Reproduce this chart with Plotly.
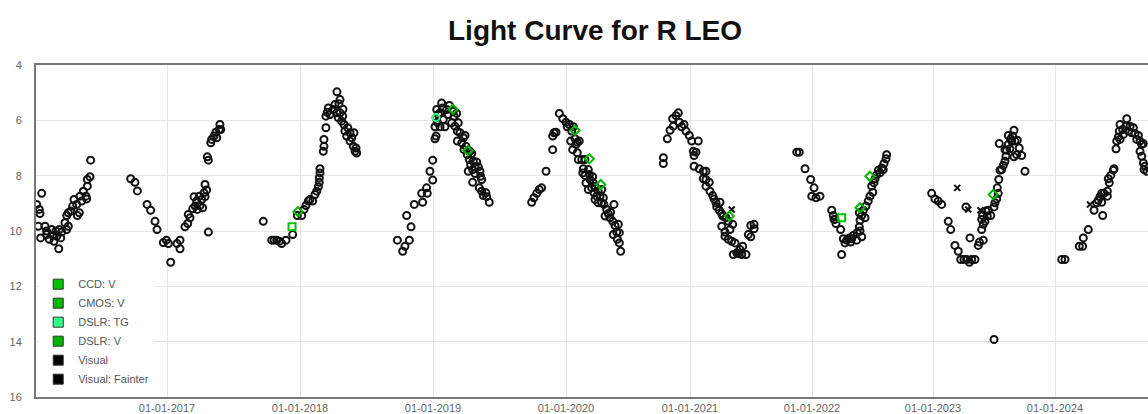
import numpy as np
import plotly.graph_objects as go

# ---------------- data (decimal year, magnitude) ----------------
vis_2016_t = [2016.020, 2016.040, 2016.045, 2016.058, 2016.032, 2016.050, 2016.083, 2016.095, 2016.095, 2016.115,
              2016.133, 2016.141, 2016.150, 2016.165, 2016.171, 2016.186, 2016.190, 2016.201, 2016.208, 2016.233,
              2016.246, 2016.258, 2016.246, 2016.258, 2016.276, 2016.291, 2016.301, 2016.321, 2016.326, 2016.341,
              2016.346, 2016.359, 2016.371, 2016.391, 2016.396, 2016.401, 2016.401, 2016.421, 2016.426]
vis_2016_m = [9.04, 9.22, 9.37, 8.64, 9.83, 10.25, 9.83, 10.00, 10.13, 10.30,
              9.95, 10.16, 10.37, 10.00, 10.19, 10.64, 9.95, 10.25, 10.04, 9.70,
              9.95, 9.83, 9.44, 9.34, 9.28, 9.10, 8.86, 9.04, 9.44, 9.34,
              8.74, 8.92, 8.56, 8.74, 8.84, 8.38, 8.14, 8.04, 7.44]

vis_2017_t = [2016.727, 2016.759, 2016.777, 2016.850, 2016.877, 2016.910, 2016.925, 2016.972, 2016.995, 2017.010,
              2017.028, 2017.075, 2017.098, 2017.098, 2017.135, 2017.156, 2017.160, 2017.173, 2017.193, 2017.203,
              2017.211, 2017.223, 2017.228, 2017.243, 2017.248, 2017.261, 2017.268, 2017.278, 2017.286, 2017.286,
              2017.298, 2017.311, 2017.303, 2017.311, 2017.329, 2017.336, 2017.353, 2017.368, 2017.374, 2017.393,
              2017.398, 2017.404]
vis_2017_m = [8.11, 8.24, 8.55, 9.04, 9.25, 9.65, 9.95, 10.42, 10.33, 10.45,
              11.13, 10.45, 10.33, 10.64, 9.85, 9.73, 9.40, 9.52, 9.20, 8.76,
              9.10, 8.92, 9.22, 8.74, 9.08, 8.86, 9.16, 8.62, 8.76, 8.32,
              8.52, 10.04, 7.32, 7.44, 6.81, 6.69, 6.57, 6.43, 6.63, 6.33,
              6.15, 6.33]

vis_2018_t = [2017.724, 2017.787, 2017.805, 2017.825, 2017.844, 2017.862, 2017.895, 2017.945, 2017.980, 2018.013,
              2018.030, 2018.045, 2018.062, 2018.075, 2018.095, 2018.113, 2018.126, 2018.138, 2018.145, 2018.145,
              2018.150, 2018.150, 2018.175, 2018.180, 2018.180, 2018.195, 2018.195, 2018.205, 2018.213, 2018.226,
              2018.250, 2018.263, 2018.276, 2018.278, 2018.288, 2018.301, 2018.301, 2018.313, 2018.321, 2018.331,
              2018.338, 2018.351, 2018.359, 2018.376, 2018.376, 2018.389, 2018.401, 2018.406, 2018.414, 2018.426,
              2018.421, 2018.293, 2018.323]
vis_2018_m = [9.65, 10.33, 10.33, 10.33, 10.37, 10.45, 10.33, 10.13, 9.44, 9.44,
              9.22, 9.08, 8.92, 8.86, 8.92, 8.68, 8.56, 8.40, 8.24, 8.08,
              7.90, 7.75, 7.12, 6.94, 6.69, 6.27, 5.85, 5.71, 5.55, 5.79,
              5.61, 5.43, 5.73, 4.97, 5.91, 5.25, 5.73, 6.03, 5.85, 6.15,
              6.39, 6.57, 6.27, 6.45, 6.75, 6.63, 6.94, 6.45, 7.12, 7.18,
              7.00, 5.40, 5.60]

vis_2019_t = [2018.732, 2018.772, 2018.789, 2018.822, 2018.802, 2018.835, 2018.859, 2018.922, 2018.915, 2018.952,
              2018.957, 2018.977, 2018.998, 2018.998, 2019.015, 2019.023, 2019.015, 2019.023, 2019.040, 2019.053,
              2019.065, 2019.073, 2019.077, 2019.090, 2019.103, 2019.115, 2019.123, 2019.141, 2019.153, 2019.158,
              2019.165, 2019.178, 2019.183, 2019.190, 2019.203, 2019.183, 2019.216, 2019.228, 2019.233, 2019.248,
              2019.241, 2019.258, 2019.278, 2019.291, 2019.273, 2019.283, 2019.303, 2019.316, 2019.329, 2019.341,
              2019.298, 2019.265, 2019.316, 2019.353, 2019.358, 2019.366, 2019.298, 2019.348, 2019.366, 2019.378,
              2019.398, 2019.404, 2019.423, 2019.053, 2019.032, 2019.028]
vis_2019_m = [10.33, 10.73, 10.55, 10.33, 9.44, 9.85, 9.04, 8.96, 8.64, 8.44,
              8.64, 7.84, 8.16, 7.44, 6.67, 6.57, 6.23, 5.91, 5.79, 6.23,
              5.37, 5.55, 5.97, 6.23, 5.61, 5.79, 5.46, 6.09, 5.67, 5.85,
              6.21, 5.75, 6.39, 6.09, 6.45, 6.75, 6.81, 6.63, 7.06, 6.94,
              6.55, 7.24, 7.12, 7.20, 7.42, 7.60, 7.48, 7.68, 7.51, 7.68,
              7.78, 7.84, 7.92, 7.84, 8.02, 8.14, 8.24, 8.44, 8.56, 8.72,
              8.62, 8.76, 8.96, 5.73, 6.07, 5.61]

vis_2020_t = [2019.742, 2019.759, 2019.780, 2019.799, 2019.817, 2019.850, 2019.900, 2019.900, 2019.910, 2019.925,
              2019.950, 2019.976, 2020.000, 2020.010, 2020.027, 2020.046, 2020.059, 2020.038, 2020.073, 2020.091,
              2020.107, 2020.054, 2020.081, 2020.091, 2020.099, 2020.127, 2020.153, 2020.140, 2020.135, 2020.153,
              2020.180, 2020.188, 2020.161, 2020.194, 2020.215, 2020.180, 2020.207, 2020.226, 2020.248, 2020.234,
              2020.260, 2020.288, 2020.274, 2020.301, 2020.288, 2020.306, 2020.328, 2020.341, 2020.360, 2020.387,
              2020.355, 2020.377, 2020.395, 2020.422, 2020.381, 2020.409, 2020.430, 2020.414, 2020.430, 2020.441,
              2020.315, 2020.260, 2020.234, 2020.220]
vis_2020_m = [8.96, 8.80, 8.64, 8.50, 8.44, 7.84, 7.06, 6.57, 6.45, 6.43,
              5.75, 5.94, 6.07, 6.23, 6.15, 6.39, 6.23, 6.75, 6.67, 6.79,
              6.75, 7.06, 6.87, 7.17, 7.42, 7.42, 7.42, 7.75, 7.90, 7.99,
              7.78, 7.96, 8.26, 8.14, 8.04, 8.50, 8.44, 8.62, 8.74, 8.38,
              8.56, 8.50, 8.74, 8.80, 8.98, 9.04, 9.22, 9.37, 9.32, 9.04,
              9.52, 9.65, 9.80, 9.76, 10.13, 10.04, 10.06, 10.30, 10.43, 10.73,
              9.46, 8.98, 8.86, 8.26]

vis_2021_t = [2020.785, 2020.785, 2020.817, 2020.839, 2020.865, 2020.860, 2020.887, 2020.906, 2020.914, 2020.933,
              2020.952, 2020.968, 2020.994, 2021.014, 2021.068, 2021.027, 2021.049, 2021.033, 2021.033, 2021.076,
              2021.109, 2021.131, 2021.109, 2021.131, 2021.158, 2021.131, 2021.164, 2021.186, 2021.197, 2021.213,
              2021.246, 2021.219, 2021.240, 2021.260, 2021.273, 2021.295, 2021.260, 2021.287, 2021.314, 2021.350,
              2021.328, 2021.314, 2021.342, 2021.369, 2021.355, 2021.383, 2021.410, 2021.432, 2021.424, 2021.459,
              2021.396, 2021.478, 2021.498, 2021.498, 2021.525, 2021.525, 2021.287, 2021.268]
vis_2021_m = [7.35, 7.56, 6.67, 6.36, 6.21, 5.94, 5.83, 5.73, 6.07, 6.23,
              6.15, 6.39, 6.55, 6.75, 6.75, 7.12, 7.15, 7.27, 7.66, 7.75,
              7.84, 7.84, 8.11, 8.14, 8.24, 8.38, 8.56, 8.72, 8.84, 8.98,
              8.96, 9.13, 9.25, 9.37, 9.46, 9.52, 9.83, 10.04, 9.65, 9.76,
              9.95, 10.30, 10.37, 10.43, 10.85, 10.79, 10.67, 10.55, 10.85, 10.85,
              10.82, 10.13, 10.21, 9.80, 9.76, 9.92, 10.19, 9.46]

vis_2022_t = [2021.875, 2021.896, 2021.943, 2021.989, 2022.017, 2021.998, 2022.033, 2022.066, 2022.163, 2022.176,
              2022.190, 2022.198, 2022.237, 2022.245, 2022.259, 2022.273, 2022.287, 2022.308, 2022.328, 2022.341,
              2022.369, 2022.374, 2022.391, 2022.397, 2022.391, 2022.411, 2022.424, 2022.438, 2022.446, 2022.465,
              2022.479, 2022.502, 2022.493, 2022.512, 2022.521, 2022.535, 2022.548, 2022.562, 2022.576, 2022.589,
              2022.595, 2022.612, 2022.617, 2022.411, 2022.397, 2022.320, 2022.182]
vis_2022_m = [7.15, 7.15, 7.75, 8.14, 8.44, 8.74, 8.80, 8.74, 9.25, 9.44,
              9.58, 9.73, 9.95, 10.85, 10.28, 10.43, 10.33, 10.25, 10.28, 10.16,
              10.33, 10.06, 9.85, 9.61, 9.34, 9.44, 9.25, 9.52, 9.10, 8.92,
              8.74, 8.60, 8.38, 8.26, 8.11, 7.96, 7.80, 7.90, 7.72, 7.78,
              7.56, 7.39, 7.24, 10.21, 10.00, 10.40, 9.58]

vis_2023_t = [2022.989, 2023.016, 2023.043, 2023.071, 2023.125, 2023.145, 2023.180, 2023.207, 2023.227, 2023.254,
              2023.276, 2023.298, 2023.317, 2023.344, 2023.270, 2023.303, 2023.371, 2023.380, 2023.412, 2023.399,
              2023.412, 2023.399, 2023.426, 2023.407, 2023.434, 2023.445, 2023.473, 2023.453, 2023.500, 2023.508,
              2023.522, 2023.535, 2023.539, 2023.527, 2023.500, 2023.549, 2023.563, 2023.576, 2023.590, 2023.598,
              2023.590, 2023.604, 2023.543, 2023.617, 2023.631, 2023.617, 2023.637, 2023.653, 2023.664, 2023.672,
              2023.691, 2023.707, 2023.686, 2023.727, 2023.664, 2023.754, 2023.645]
vis_2023_m = [8.64, 8.84, 8.92, 9.04, 9.65, 9.95, 10.52, 10.73, 11.03, 11.03,
              11.03, 11.13, 11.03, 11.03, 9.13, 10.25, 10.52, 10.40, 10.33, 9.95,
              9.76, 9.58, 9.65, 9.44, 9.28, 9.46, 9.44, 9.25, 9.13, 8.98,
              8.84, 8.64, 8.14, 8.44, 13.92, 7.80, 7.78, 7.63, 7.48, 7.30,
              7.06, 7.08, 6.84, 6.87, 7.03, 6.55, 6.67, 6.57, 6.36, 6.75,
              6.72, 7.00, 7.24, 7.27, 7.32, 7.84, 6.75]

vis_2024_t = [2024.055, 2024.082, 2024.199, 2024.227, 2024.232, 2024.273, 2024.320, 2024.342, 2024.355, 2024.383,
              2024.391, 2024.383, 2024.402, 2024.429, 2024.429, 2024.369, 2024.445, 2024.437, 2024.457, 2024.478,
              2024.484, 2024.500, 2024.506, 2024.519, 2024.527, 2024.533, 2024.555, 2024.560, 2024.582, 2024.588,
              2024.601, 2024.615, 2024.629, 2024.642, 2024.656, 2024.670, 2024.683, 2024.697, 2024.711, 2024.724,
              2024.697, 2024.711, 2024.724, 2024.730, 2024.738, 2024.533, 2024.752]
vis_2024_m = [11.03, 11.03, 10.55, 10.55, 10.25, 9.95, 9.25, 8.98, 8.89, 8.96,
              9.44, 8.64, 8.64, 8.74, 8.56, 8.76, 8.26, 8.11, 7.99, 7.80,
              7.75, 7.03, 6.75, 6.60, 6.39, 6.15, 6.33, 6.51, 6.21, 5.94,
              6.39, 6.21, 6.45, 6.27, 6.48, 6.69, 6.55, 6.75, 6.87, 6.84,
              7.12, 7.30, 7.54, 7.78, 7.66, 6.69, 7.84]

fainter_t = [2021.342, 2023.199, 2023.289, 2023.389, 2024.287]
fainter_m = [9.22, 8.44, 9.22, 9.25, 9.04]

ccd_v_t = [2017.940, 2022.245]
ccd_v_m = [9.85, 9.52]
cmos_v_t = [2020.188, 2020.280]
cmos_v_m = [7.39, 8.32]
dslr_tg_t = [2019.023]
dslr_tg_m = [5.90]
dslr_v_t = [2017.985, 2019.150, 2019.263, 2020.073, 2021.322, 2022.397, 2022.479, 2023.494]
dslr_v_m = [9.30, 5.60, 7.10, 6.36, 9.46, 9.16, 8.02, 8.68]

tick_years = [2017, 2018, 2019, 2020, 2021, 2022, 2023, 2024]
tick_labels = ["01-01-2017", "01-01-2018", "01-01-2019", "01-01-2020",
               "01-01-2021", "01-01-2022", "01-01-2023", "01-01-2024"]
mag_ticks = [4, 6, 8, 10, 12, 14, 16]

# ---------------- time scale of the reference (uneven spacing of year ticks) ----------------
SCALE_YEARS = [2016, 2017, 2018, 2019, 2020, 2021, 2022, 2023, 2024, 2025]
SCALE_POS = [34, 167, 300, 433, 566, 690, 812, 933, 1055, 1177]


def scale(t):
    return np.interp(np.asarray(t, dtype=float), SCALE_YEARS, SCALE_POS)


vis_t = (vis_2016_t + vis_2017_t + vis_2018_t + vis_2019_t + vis_2020_t +
         vis_2021_t + vis_2022_t + vis_2023_t + vis_2024_t)
vis_m = (vis_2016_m + vis_2017_m + vis_2018_m + vis_2019_m + vis_2020_m +
         vis_2021_m + vis_2022_m + vis_2023_m + vis_2024_m)

FONT = "Arial, Liberation Sans, Helvetica, sans-serif"
fig = go.Figure()

fig.add_trace(go.Scatter(x=scale(vis_t), y=vis_m, mode="markers", showlegend=False,
                         marker=dict(symbol="circle-open", size=7, color="#111111",
                                     line=dict(width=2, color="#111111"))))
fig.add_trace(go.Scatter(x=scale(fainter_t), y=fainter_m, mode="markers", showlegend=False,
                         marker=dict(symbol="x-thin-open", size=6, color="#111111",
                                     line=dict(width=2, color="#111111"))))
green_series = [
    (ccd_v_t, ccd_v_m, "square-open", "#00c000"),
    (cmos_v_t, cmos_v_m, "diamond-open", "#00b800"),
    (dslr_tg_t, dslr_tg_m, "circle-open", "#33ff88"),
    (dslr_v_t, dslr_v_m, "diamond-open", "#00b400"),
]
for t, m, sym, col in green_series:
    fig.add_trace(go.Scatter(x=scale(t), y=m, mode="markers", showlegend=False,
                             marker=dict(symbol=sym, size=7, color=col,
                                         line=dict(width=2, color=col))))

legend_items = [("CCD: V", "#00c000"), ("CMOS: V", "#00b800"), ("DSLR: TG", "#33ff88"),
                ("DSLR: V", "#00b400"), ("Visual", "#000000"), ("Visual: Fainter", "#000000")]
for name, col in legend_items:
    fig.add_trace(go.Scatter(x=[None], y=[None], mode="markers", name=name,
                             marker=dict(symbol="square", size=10, color=col,
                                         line=dict(width=1, color="#333333"))))

fig.update_layout(
    width=1148, height=414,
    margin=dict(l=36, r=0, t=65, b=17),
    paper_bgcolor="white", plot_bgcolor="white",
    title=dict(text="<b>Light Curve for R LEO</b>", x=595 / 1148, xref="container", xanchor="center",
               y=1 - 30 / 414, yref="container", yanchor="middle",
               font=dict(family=FONT, size=28, color="#111111")),
    showlegend=True,
    legend=dict(x=0.002, y=0.01, xanchor="left", yanchor="bottom", bgcolor="rgba(255,255,255,0.9)",
                font=dict(family=FONT, size=11, color="#555555"), itemwidth=30,
                tracegroupgap=0),
    font=dict(family=FONT),
)
fig.update_xaxes(range=[36, 1148], tickmode="array", tickvals=scale(tick_years), ticktext=tick_labels,
                 showgrid=True, gridcolor="#e6e6e6", gridwidth=1, zeroline=False,
                 showline=True, linecolor="#777777", linewidth=2, mirror=True,
                 ticks="", tickfont=dict(family=FONT, size=11, color="#666666"))
fig.update_yaxes(range=[16, 4], tickmode="array", tickvals=mag_ticks,
                 showgrid=True, gridcolor="#e6e6e6", gridwidth=1, zeroline=False,
                 showline=True, linecolor="#777777", linewidth=2, mirror=False,
                 ticks="", ticklabelstandoff=10, tickfont=dict(family=FONT, size=11, color="#666666"))

fig.write_html("out.html")
